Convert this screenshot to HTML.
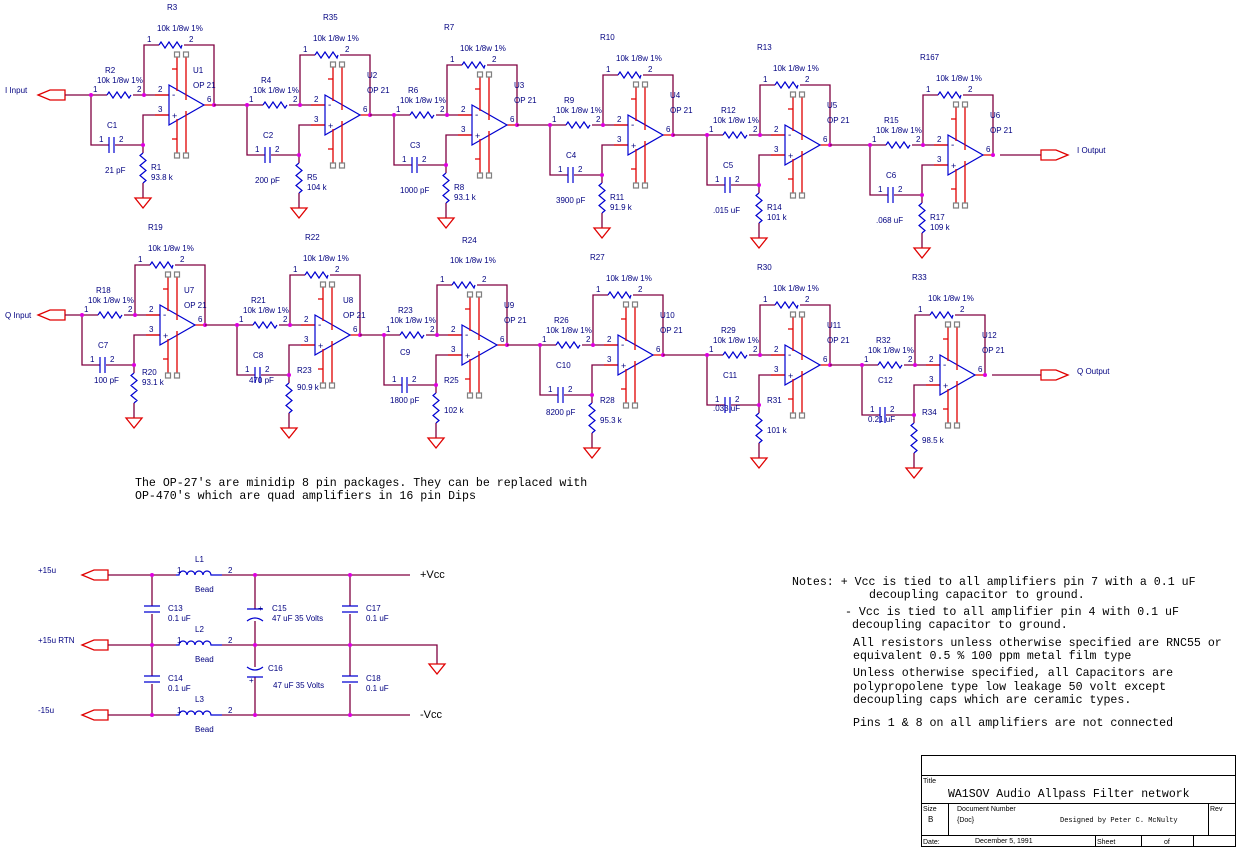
<!DOCTYPE html>
<html><head><meta charset="utf-8"><style>
body{margin:0;background:#fff;}
svg{display:block}
.w{stroke:#800040;stroke-width:1.3;fill:none}
.r{stroke:#e00000;stroke-width:1.3;fill:none}
.b{stroke:#0000d0;stroke-width:1.2;fill:none}
.t{font-family:"Liberation Sans",sans-serif;font-size:8px;fill:#000080}
.m{font-family:"Liberation Mono",monospace;font-size:11.6px;fill:#000}
.d{fill:#e000e0}
</style></head><body>
<svg width="1238" height="850" viewBox="0 0 1238 850" xmlns="http://www.w3.org/2000/svg">
<defs>
<g id="st">
 <path class="w" d="M-78,0H-62M-36,0H0M-25,0V-50H-10M15,-50H45V10M-78,0V50H-60M-54,50H-26V20H0M-26,50V58M-26,88V103"/>
 <path class="r" d="M35,10H45M-14,0H0M-14,20H0"/>
 <path class="b" d="M-62,0l2,-3l4,6l4,-6l4,6l4,-6l4,6l2,-3M-10,-50l2,-3l4,6l4,-6l4,6l4,-6l4,6l1,-3M-26,58l-3,2.5l6,5l-6,5l6,5l-6,5l6,5l-3,2.5M-60,42v16M-55,42v16"/>
 <path class="r" d="M-60,50h0M-34,103h16l-8,10z"/>
 <polygon points="0,-10 0,30 35,10" fill="#fff" stroke="#0000d0" stroke-width="1.2"/>
 <path class="r" d="M8,-38V-4M17,-38V5M8,24V58M17,16V58M3,-26h5M3,44h5"/>
 <path stroke="#808080" fill="none" stroke-width="1.2" d="M5.5,-43h5v5h-5zM14.5,-43h5v5h-5zM5.5,58h5v5h-5zM14.5,58h5v5h-5z"/>
 <text class="t" x="3" y="3" style="font-size:10px">-</text><text class="t" x="3" y="24" style="font-size:9px">+</text>
 <text class="t" x="-11" y="-3">2</text><text class="t" x="-11" y="17">3</text><text class="t" x="38" y="7">6</text>
 <text class="t" x="-76" y="-3">1</text><text class="t" x="-32" y="-3">2</text>
 <text class="t" x="-22" y="-53">1</text><text class="t" x="20" y="-53">2</text>
 <text class="t" x="-70" y="47">1</text><text class="t" x="-50" y="47">2</text>
 <circle class="d" cx="-78" cy="0" r="2"/><circle class="d" cx="-25" cy="0" r="2"/><circle class="d" cx="-26" cy="50" r="2"/><circle class="d" cx="45" cy="10" r="2"/>
</g>
</defs>

<!-- connectors -->
<path class="r" d="M38,95l12,-5h15v10h-15z M38,315l12,-5h15v10h-15z M1068,155l-12,-5h-15v10h15z M1068,375l-12,-5h-15v10h15z"/>
<path class="w" d="M65,95H91M65,315H82M1000,155H1041M992,375H1041"/>
<text class="t" x="5" y="93">I Input</text><text class="t" x="5" y="318">Q Input</text>
<text class="t" x="1077" y="153">I Output</text><text class="t" x="1077" y="374">Q Output</text>

<!-- top row -->
<g transform="translate(169,95)"><use href="#st"/>
<text class="t" x="-64" y="-22">R2</text><text class="t" x="-72" y="-12">10k 1/8w 1%</text><text class="t" x="-2" y="-85">R3</text><text class="t" x="-12" y="-64">10k 1/8w 1%</text><text class="t" x="24" y="-22">U1</text><text class="t" x="24" y="-7">OP 21</text><text class="t" x="-62" y="33">C1</text><text class="t" x="-64" y="78">21 pF</text><text class="t" x="-18" y="75">R1</text><text class="t" x="-18" y="85">93.8 k</text></g>
<path class="w" d="M214,105H247"/>
<g transform="translate(325,105)"><use href="#st"/>
<text class="t" x="-64" y="-22">R4</text><text class="t" x="-72" y="-12">10k 1/8w 1%</text><text class="t" x="-2" y="-85">R35</text><text class="t" x="-12" y="-64">10k 1/8w 1%</text><text class="t" x="42" y="-27">U2</text><text class="t" x="42" y="-12">OP 21</text><text class="t" x="-62" y="33">C2</text><text class="t" x="-70" y="78">200 pF</text><text class="t" x="-18" y="75">R5</text><text class="t" x="-18" y="85">104 k</text></g>
<path class="w" d="M370,115H394"/>
<g transform="translate(472,115)"><use href="#st"/>
<text class="t" x="-64" y="-22">R6</text><text class="t" x="-72" y="-12">10k 1/8w 1%</text><text class="t" x="-28" y="-85">R7</text><text class="t" x="-12" y="-64">10k 1/8w 1%</text><text class="t" x="42" y="-27">U3</text><text class="t" x="42" y="-12">OP 21</text><text class="t" x="-62" y="33">C3</text><text class="t" x="-72" y="78">1000 pF</text><text class="t" x="-18" y="75">R8</text><text class="t" x="-18" y="85">93.1 k</text></g>
<path class="w" d="M517,125H550"/>
<g transform="translate(628,125)"><use href="#st"/>
<text class="t" x="-64" y="-22">R9</text><text class="t" x="-72" y="-12">10k 1/8w 1%</text><text class="t" x="-28" y="-85">R10</text><text class="t" x="-12" y="-64">10k 1/8w 1%</text><text class="t" x="42" y="-27">U4</text><text class="t" x="42" y="-12">OP 21</text><text class="t" x="-62" y="33">C4</text><text class="t" x="-72" y="78">3900 pF</text><text class="t" x="-18" y="75">R11</text><text class="t" x="-18" y="85">91.9 k</text></g>
<path class="w" d="M673,135H707"/>
<g transform="translate(785,135)"><use href="#st"/>
<text class="t" x="-64" y="-22">R12</text><text class="t" x="-72" y="-12">10k 1/8w 1%</text><text class="t" x="-28" y="-85">R13</text><text class="t" x="-12" y="-64">10k 1/8w 1%</text><text class="t" x="42" y="-27">U5</text><text class="t" x="42" y="-12">OP 21</text><text class="t" x="-62" y="33">C5</text><text class="t" x="-72" y="78">.015 uF</text><text class="t" x="-18" y="75">R14</text><text class="t" x="-18" y="85">101 k</text></g>
<path class="w" d="M830,145H870"/>
<g transform="translate(948,145)"><use href="#st"/>
<text class="t" x="-64" y="-22">R15</text><text class="t" x="-72" y="-12">10k 1/8w 1%</text><text class="t" x="-28" y="-85">R167</text><text class="t" x="-12" y="-64">10k 1/8w 1%</text><text class="t" x="42" y="-27">U6</text><text class="t" x="42" y="-12">OP 21</text><text class="t" x="-62" y="33">C6</text><text class="t" x="-72" y="78">.068 uF</text><text class="t" x="-18" y="75">R17</text><text class="t" x="-18" y="85">109 k</text></g>

<!-- bottom row -->
<g transform="translate(160,315)"><use href="#st"/>
<text class="t" x="-64" y="-22">R18</text><text class="t" x="-72" y="-12">10k 1/8w 1%</text><text class="t" x="-12" y="-85">R19</text><text class="t" x="-12" y="-64">10k 1/8w 1%</text><text class="t" x="24" y="-22">U7</text><text class="t" x="24" y="-7">OP 21</text><text class="t" x="-62" y="33">C7</text><text class="t" x="-66" y="68">100 pF</text><text class="t" x="-18" y="60">R20</text><text class="t" x="-18" y="70">93.1 k</text></g>
<path class="w" d="M205,325H237"/>
<g transform="translate(315,325)"><use href="#st"/>
<text class="t" x="-64" y="-22">R21</text><text class="t" x="-72" y="-12">10k 1/8w 1%</text><text class="t" x="-10" y="-85">R22</text><text class="t" x="-12" y="-64">10k 1/8w 1%</text><text class="t" x="28" y="-22">U8</text><text class="t" x="28" y="-7">OP 21</text><text class="t" x="-62" y="33">C8</text><text class="t" x="-66" y="58">470 pF</text><text class="t" x="-18" y="48">R23</text><text class="t" x="-18" y="65">90.9 k</text></g>
<path class="w" d="M360,335H384"/>
<g transform="translate(462,335)"><use href="#st"/>
<text class="t" x="-64" y="-22">R23</text><text class="t" x="-72" y="-12">10k 1/8w 1%</text><text class="t" x="0" y="-92">R24</text><text class="t" x="-12" y="-72">10k 1/8w 1%</text><text class="t" x="42" y="-27">U9</text><text class="t" x="42" y="-12">OP 21</text><text class="t" x="-62" y="20">C9</text><text class="t" x="-72" y="68">1800 pF</text><text class="t" x="-18" y="48">R25</text><text class="t" x="-18" y="78">102 k</text></g>
<path class="w" d="M507,345H540"/>
<g transform="translate(618,345)"><use href="#st"/>
<text class="t" x="-64" y="-22">R26</text><text class="t" x="-72" y="-12">10k 1/8w 1%</text><text class="t" x="-28" y="-85">R27</text><text class="t" x="-12" y="-64">10k 1/8w 1%</text><text class="t" x="42" y="-27">U10</text><text class="t" x="42" y="-12">OP 21</text><text class="t" x="-62" y="23">C10</text><text class="t" x="-72" y="70">8200 pF</text><text class="t" x="-18" y="58">R28</text><text class="t" x="-18" y="78">95.3 k</text></g>
<path class="w" d="M663,355H707"/>
<g transform="translate(785,355)"><use href="#st"/>
<text class="t" x="-64" y="-22">R29</text><text class="t" x="-72" y="-12">10k 1/8w 1%</text><text class="t" x="-28" y="-85">R30</text><text class="t" x="-12" y="-64">10k 1/8w 1%</text><text class="t" x="42" y="-27">U11</text><text class="t" x="42" y="-12">OP 21</text><text class="t" x="-62" y="23">C11</text><text class="t" x="-72" y="56">.033 uF</text><text class="t" x="-18" y="48">R31</text><text class="t" x="-18" y="78">101 k</text></g>
<path class="w" d="M830,365H862"/>
<g transform="translate(940,365)"><use href="#st"/>
<text class="t" x="-64" y="-22">R32</text><text class="t" x="-72" y="-12">10k 1/8w 1%</text><text class="t" x="-28" y="-85">R33</text><text class="t" x="-12" y="-64">10k 1/8w 1%</text><text class="t" x="42" y="-27">U12</text><text class="t" x="42" y="-12">OP 21</text><text class="t" x="-62" y="18">C12</text><text class="t" x="-72" y="57">0.21 uF</text><text class="t" x="-18" y="50">R34</text><text class="t" x="-18" y="78">98.5 k</text></g>

<text class="m" x="135" y="486">The OP-27's are minidip 8 pin packages. They can be replaced with</text>
<text class="m" x="135" y="499">OP-470's which are quad amplifiers in 16 pin Dips</text>

<!-- power -->
<path class="r" d="M82,575l12,-5h14v10h-14z M82,645l12,-5h14v10h-14z M82,715l12,-5h14v10h-14z"/>
<text class="t" x="38" y="573">+15u</text><text class="t" x="38" y="643">+15u RTN</text><text class="t" x="38" y="713">-15u</text>
<path class="w" d="M108,575H176M222,575H410M108,645H176M222,645H437V664M108,715H176M222,715H410"/>
<path class="w" d="M152,575V606M152,614V676M152,684V715M255,575V609M255,621V667M255,677V715M350,575V606M350,614V676M350,684V715"/>
<path class="r" d="M429,664h16l-8,10z"/>
<path class="b" d="M176,575h3a4,4 0 0 1 8,0a4,4 0 0 1 8,0a4,4 0 0 1 8,0a4,4 0 0 1 8,0h11M176,645h3a4,4 0 0 1 8,0a4,4 0 0 1 8,0a4,4 0 0 1 8,0a4,4 0 0 1 8,0h11M176,715h3a4,4 0 0 1 8,0a4,4 0 0 1 8,0a4,4 0 0 1 8,0a4,4 0 0 1 8,0h11"/>
<path class="b" d="M144,606h16M144,612h16M144,676h16M144,682h16M342,606h16M342,612h16M342,676h16M342,682h16M247,609h16M247,621q8,-6 16,0M247,667q8,6 16,0M247,677h16"/>
<g class="d"><circle cx="152" cy="575" r="2"/><circle cx="255" cy="575" r="2"/><circle cx="350" cy="575" r="2"/><circle cx="152" cy="645" r="2"/><circle cx="255" cy="645" r="2"/><circle cx="350" cy="645" r="2"/><circle cx="152" cy="715" r="2"/><circle cx="255" cy="715" r="2"/><circle cx="350" cy="715" r="2"/></g>
<text class="t" x="195" y="562">L1</text><text class="t" x="177" y="573">1</text><text class="t" x="228" y="573">2</text><text class="t" x="195" y="592">Bead</text>
<text class="t" x="195" y="632">L2</text><text class="t" x="177" y="643">1</text><text class="t" x="228" y="643">2</text><text class="t" x="195" y="662">Bead</text>
<text class="t" x="195" y="702">L3</text><text class="t" x="177" y="713">1</text><text class="t" x="228" y="713">2</text><text class="t" x="195" y="732">Bead</text>
<text class="t" x="168" y="611">C13</text><text class="t" x="168" y="621">0.1 uF</text>
<text class="t" x="168" y="681">C14</text><text class="t" x="168" y="691">0.1 uF</text>
<text class="t" x="272" y="611">C15</text><text class="t" x="272" y="621">47 uF 35 Volts</text><text class="t" x="258" y="611">+</text>
<text class="t" x="268" y="671">C16</text><text class="t" x="273" y="688">47 uF 35 Volts</text><text class="t" x="249" y="683">+</text>
<text class="t" x="366" y="611">C17</text><text class="t" x="366" y="621">0.1 uF</text>
<text class="t" x="366" y="681">C18</text><text class="t" x="366" y="691">0.1 uF</text>
<text x="420" y="578" style="font-family:'Liberation Sans',sans-serif;font-size:11px">+Vcc</text>
<text x="420" y="718" style="font-family:'Liberation Sans',sans-serif;font-size:11px">-Vcc</text>

<!-- notes -->
<text class="m" x="792" y="585">Notes: + Vcc is tied to all amplifiers pin 7 with a 0.1 uF</text>
<text class="m" x="869" y="598">decoupling capacitor to ground.</text>
<text class="m" x="845" y="615">- Vcc is tied to all amplifier pin 4 with 0.1 uF</text>
<text class="m" x="852" y="628">decoupling capacitor to ground.</text>
<text class="m" x="853" y="646">All resistors unless otherwise specified are RNC55 or</text>
<text class="m" x="853" y="659">equivalent 0.5 % 100 ppm metal film type</text>
<text class="m" x="853" y="676">Unless otherwise specified, all Capacitors are</text>
<text class="m" x="853" y="690">polypropolene type low leakage 50 volt except</text>
<text class="m" x="853" y="703">decoupling caps which are ceramic types.</text>
<text class="m" x="853" y="726">Pins 1 &amp; 8 on all amplifiers are not connected</text>

<!-- title block -->
<path stroke="#000" fill="none" stroke-width="1" d="M921.5,755.5H1235.5V846.5H921.5ZM921.5,775.5H1235.5M921.5,803.5H1235.5M921.5,835.5H1235.5M948.5,803.5V835.5M1208.5,803.5V835.5M1095.5,835.5V846.5M1141.5,835.5V846.5M1193.5,835.5V846.5"/>
<text class="t" x="923" y="783" style="fill:#000;font-size:7px">Title</text>
<text x="948" y="797" style="font-family:'Liberation Mono',monospace;font-size:11.5px">WA1SOV Audio Allpass Filter network</text>
<text class="t" x="923" y="811" style="fill:#000;font-size:7px">Size</text><text class="t" x="928" y="822" style="fill:#000">B</text>
<text class="t" x="957" y="811" style="fill:#000;font-size:7px">Document Number</text><text class="t" x="957" y="822" style="fill:#000;font-size:7px">{Doc}</text>
<text x="1060" y="822" style="font-family:'Liberation Mono',monospace;font-size:7px">Designed by Peter C. McNulty</text>
<text class="t" x="1210" y="811" style="fill:#000;font-size:7px">Rev</text>
<text class="t" x="923" y="844" style="fill:#000;font-size:7px">Date:</text><text class="t" x="975" y="843" style="fill:#000;font-size:7px">December 5, 1991</text>
<text class="t" x="1097" y="844" style="fill:#000;font-size:7px">Sheet</text><text class="t" x="1164" y="844" style="fill:#000;font-size:7px">of</text>
</svg>
</body></html>
